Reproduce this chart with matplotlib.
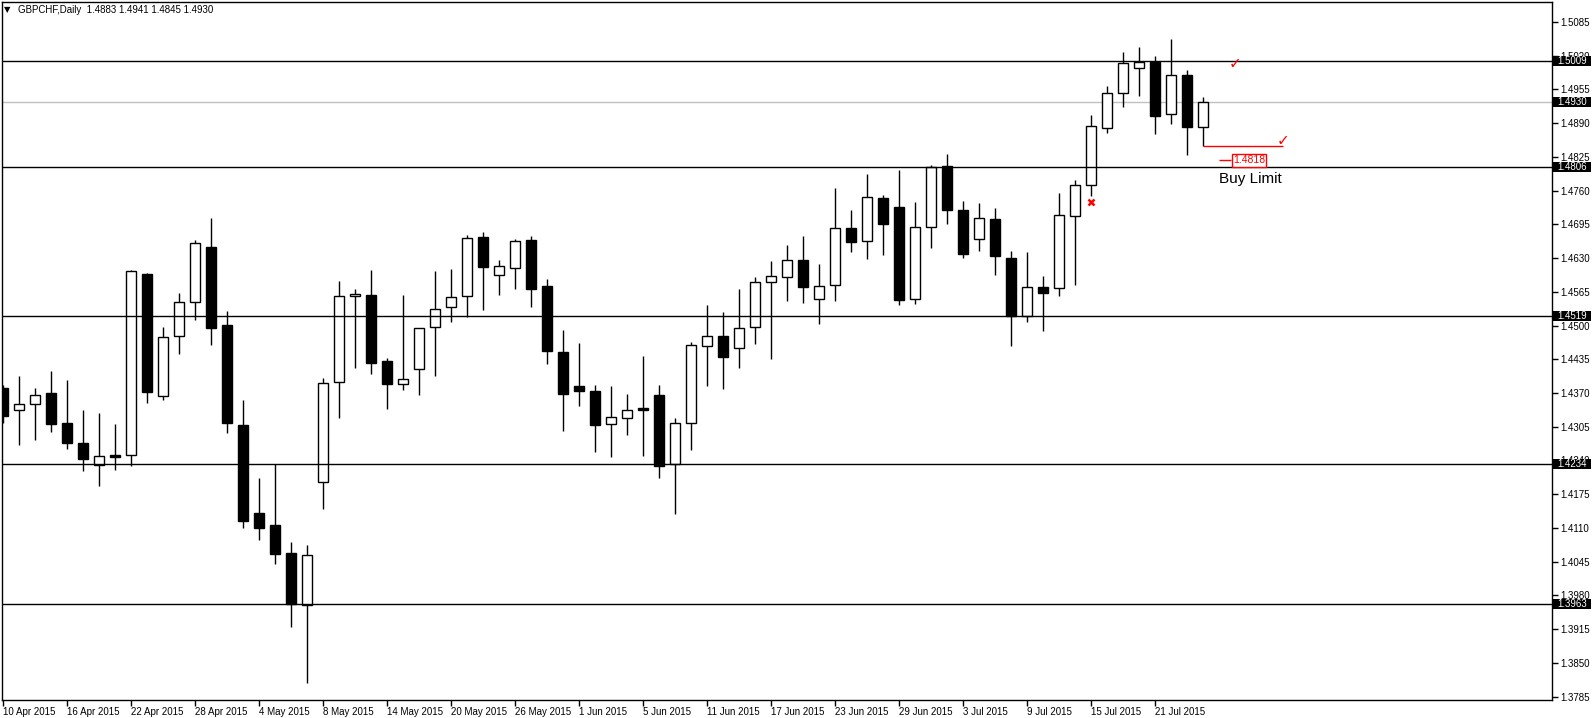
import numpy as np
import matplotlib
matplotlib.use('Agg')
import matplotlib.pyplot as plt
import matplotlib.transforms as mtransforms
from matplotlib.patches import Rectangle

plt.rcParams['font.family'] = ['Liberation Sans', 'DejaVu Sans']

# GBPCHF daily bars, 10 Apr 2015 .. 24 Jul 2015
opens = [1.4379, 1.4337, 1.4348, 1.4370, 1.4313, 1.4273, 1.4231, 1.4250, 1.4251, 1.4599,
         1.4365, 1.4479, 1.4545, 1.4651, 1.4501, 1.4308, 1.4139, 1.4116, 1.4062, 1.3961,
         1.4198, 1.4391, 1.4556, 1.4558, 1.4431, 1.4387, 1.4416, 1.4498, 1.4535, 1.4556,
         1.4670, 1.4598, 1.4611, 1.4665, 1.4576, 1.4449, 1.4383, 1.4374, 1.4311, 1.4322,
         1.4341, 1.4366, 1.4233, 1.4313, 1.4460, 1.4480, 1.4457, 1.4498, 1.4583, 1.4593,
         1.4626, 1.4552, 1.4579, 1.4687, 1.4662, 1.4745, 1.4728, 1.4552, 1.4689, 1.4807,
         1.4723, 1.4666, 1.4705, 1.4631, 1.4518, 1.4574, 1.4572, 1.4710, 1.4771, 1.4881,
         1.4947, 1.4997, 1.5008, 1.4907, 1.4983, 1.4883]
highs = [1.4385, 1.4403, 1.4379, 1.4412, 1.4395, 1.4337, 1.4331, 1.4310, 1.4607, 1.4601,
         1.4497, 1.4563, 1.4665, 1.4707, 1.4528, 1.4356, 1.4206, 1.4233, 1.4083, 1.4077,
         1.4399, 1.4586, 1.4570, 1.4607, 1.4437, 1.4559, 1.4496, 1.4605, 1.4609, 1.4674,
         1.4680, 1.4626, 1.4666, 1.4672, 1.4590, 1.4491, 1.4466, 1.4385, 1.4383, 1.4368,
         1.4441, 1.4385, 1.4322, 1.4468, 1.4540, 1.4526, 1.4570, 1.4593, 1.4624, 1.4655,
         1.4672, 1.4618, 1.4765, 1.4723, 1.4792, 1.4752, 1.4800, 1.4738, 1.4809, 1.4830,
         1.4740, 1.4736, 1.4726, 1.4644, 1.4642, 1.4595, 1.4755, 1.4780, 1.4906, 1.4961,
         1.5027, 1.5037, 1.5019, 1.5052, 1.4992, 1.4941]
lows = [1.4313, 1.4270, 1.4279, 1.4295, 1.4263, 1.4220, 1.4191, 1.4222, 1.4230, 1.4351,
        1.4357, 1.4446, 1.4511, 1.4463, 1.4292, 1.4109, 1.4087, 1.4041, 1.3920, 1.3812,
        1.4147, 1.4322, 1.4419, 1.4407, 1.4340, 1.4376, 1.4367, 1.4403, 1.4507, 1.4516,
        1.4529, 1.4559, 1.4571, 1.4536, 1.4426, 1.4297, 1.4344, 1.4257, 1.4247, 1.4289,
        1.4249, 1.4207, 1.4136, 1.4261, 1.4384, 1.4378, 1.4419, 1.4465, 1.4436, 1.4548,
        1.4544, 1.4502, 1.4548, 1.4642, 1.4629, 1.4635, 1.4540, 1.4542, 1.4650, 1.4696,
        1.4631, 1.4644, 1.4598, 1.4461, 1.4507, 1.4490, 1.4557, 1.4578, 1.4750, 1.4870,
        1.4920, 1.4943, 1.4868, 1.4889, 1.4829, 1.4845]
closes = [1.4326, 1.4348, 1.4367, 1.4311, 1.4274, 1.4243, 1.4248, 1.4247, 1.4605, 1.4372,
          1.4478, 1.4545, 1.4659, 1.4496, 1.4313, 1.4124, 1.4109, 1.4060, 1.3963, 1.4057,
          1.4389, 1.4556, 1.4560, 1.4428, 1.4388, 1.4396, 1.4496, 1.4531, 1.4554, 1.4668,
          1.4613, 1.4614, 1.4662, 1.4571, 1.4451, 1.4369, 1.4374, 1.4309, 1.4323, 1.4338,
          1.4338, 1.4230, 1.4313, 1.4462, 1.4479, 1.4440, 1.4496, 1.4583, 1.4595, 1.4626,
          1.4575, 1.4577, 1.4687, 1.4660, 1.4747, 1.4696, 1.4550, 1.4689, 1.4805, 1.4723,
          1.4637, 1.4707, 1.4633, 1.4518, 1.4574, 1.4563, 1.4712, 1.4770, 1.4884, 1.4947,
          1.5005, 1.5008, 1.4904, 1.4982, 1.4883, 1.4930]

date_labels = ['10 Apr 2015', '16 Apr 2015', '22 Apr 2015', '28 Apr 2015', '4 May 2015',
               '8 May 2015', '14 May 2015', '20 May 2015', '26 May 2015', '1 Jun 2015',
               '5 Jun 2015', '11 Jun 2015', '17 Jun 2015', '23 Jun 2015', '29 Jun 2015',
               '3 Jul 2015', '9 Jul 2015', '15 Jul 2015', '21 Jul 2015']
label_every = 4

levels = [1.5009, 1.4806, 1.4519, 1.4234, 1.3963]
bid = 1.4930
y_ticks = [1.5085, 1.5020, 1.4955, 1.4890, 1.4825, 1.4760, 1.4695, 1.4630, 1.4565, 1.4500,
           1.4435, 1.4370, 1.4305, 1.4240, 1.4175, 1.4110, 1.4045, 1.3980, 1.3915, 1.3850,
           1.3785]

order_price = 1.4818
stop_price = 1.4845

fig = plt.figure(figsize=(15.92, 7.18), dpi=100, facecolor='white')
ax = fig.add_axes([2 / 1592, 18 / 718, 1550 / 1592, 698 / 718])
ax.set_axisbelow(True)

n = len(opens)
x = np.arange(n)
w = 0.62

# candles
ax.vlines(x, lows, highs, color='black', lw=1, zorder=2)
for i in range(n):
    o, c = opens[i], closes[i]
    bull = c >= o
    ax.add_patch(Rectangle((x[i] - w / 2, min(o, c)), w, max(abs(c - o), 0.00005),
                           facecolor='white' if bull else 'black',
                           edgecolor='black', lw=1, zorder=3))

# horizontal levels
ax.axhline(bid, color='#c0c0c0', lw=1, zorder=1)
for lv in levels:
    ax.axhline(lv, color='black', lw=1, zorder=4)

# price boxes on right scale
trans = mtransforms.blended_transform_factory(ax.transAxes, ax.transData)
px = 1 / 1550.0
py = 1 / 5191.0
for lv in levels + [bid]:
    ax.add_patch(Rectangle((1 + 1 * px, lv - 5 * py), 38 * px, 10 * py, transform=trans,
                           facecolor='black', edgecolor='black', lw=0, clip_on=False, zorder=10))
    ax.text(1 + 20 * px, lv, '%.4f' % lv, transform=trans, color='white', fontsize=7,
            ha='center', va='center', clip_on=False, zorder=11)

# order annotation
ax.hlines(stop_price, n - 1, n + 4, color='red', lw=1, zorder=5)
ax.text(77, 1.5004, '\u2713', color='red', fontsize=11, fontweight='bold', ha='center',
        va='center', family=['DejaVu Sans'], zorder=6)
ax.text(80, 1.4857, '\u2713', color='red', fontsize=11, fontweight='bold', ha='center',
        va='center', family=['DejaVu Sans'], zorder=6)
ax.plot(68, 1.4737, marker='x', color='red', ms=4, mew=1.8, zorder=6)
ax.hlines(order_price, 76.0, 76.75, color='red', lw=1, zorder=5)
ax.text(77.85, order_price, '%.4f' % order_price, color='red', fontsize=7.5, ha='center',
        va='center', zorder=6,
        bbox=dict(boxstyle='square,pad=0.12', fc='white', ec='red', lw=1))
ax.text(76.0, 1.4783, 'Buy Limit', color='black', fontsize=11, ha='left', va='center', zorder=6)

# axes
ax.set_xlim(-0.08, 96.79)
ax.set_ylim(1.37786, 1.51232)
ax.set_xticks(x[::label_every])
ax.set_xticklabels(date_labels, fontsize=7, ha='left')
ax.yaxis.tick_right()
ax.set_yticks(y_ticks)
ax.set_yticklabels(['%.4f' % t for t in y_ticks], fontsize=7)
ax.tick_params(axis='x', direction='out', length=4, pad=1, width=1)
ax.tick_params(axis='y', direction='out', length=4, pad=2, width=1)
for s in ax.spines.values():
    s.set_color('black')
    s.set_linewidth(1)

fig.text(4 / 1592, 1 - 10 / 718, '\u25bc', fontsize=6, va='center', family=['DejaVu Sans'])
fig.text(18 / 1592, 1 - 10 / 718, 'GBPCHF,Daily  1.4883 1.4941 1.4845 1.4930',
         fontsize=7, va='center')

fig.savefig('out.png', dpi=100, facecolor='white')
